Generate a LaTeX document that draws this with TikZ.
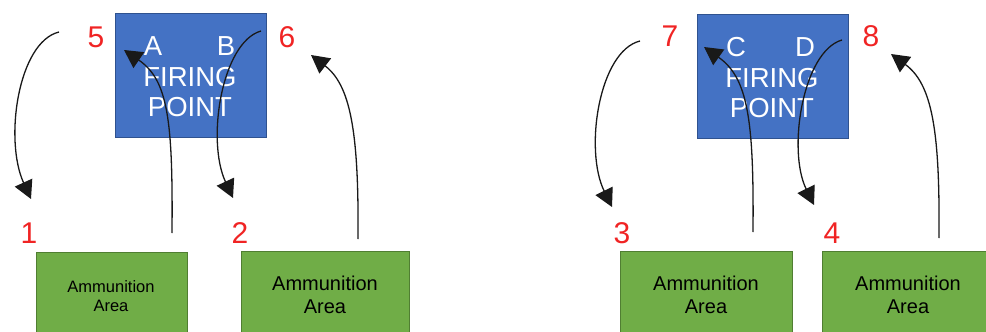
\documentclass[tikz,border=0pt]{standalone}
\usepackage{fontspec}
\setmainfont{Liberation Sans}
\usetikzlibrary{arrows.meta}
\definecolor{fpblue}{HTML}{4472C4}
\definecolor{fpblueb}{HTML}{2F528F}
\definecolor{amgreen}{HTML}{70AD47}
\definecolor{amgreenb}{HTML}{507E32}
\definecolor{numred}{HTML}{F02424}
\tikzset{
  x=1pt, y=-1pt,
  fpbox/.style={draw=fpblueb, fill=fpblue, line width=1.2pt, minimum width=151pt, minimum height=124pt, anchor=north west, inner sep=0pt},
  ambox/.style={draw=amgreenb, fill=amgreen, line width=1.2pt, minimum height=110pt, anchor=north west, inner sep=0pt},
  fptext/.style={text=white, font=\fontsize{27.5}{29}\selectfont, inner sep=0pt},
  numtext/.style={text=numred, font=\fontsize{30}{32}\selectfont, inner sep=0pt},
  amtext/.style={align=center, font=\fontsize{20}{23}\selectfont, inner sep=0pt},
  amtextsm/.style={align=center, font=\fontsize{16.5}{19.5}\selectfont, inner sep=0pt},
  flow/.style={line width=1.3pt, draw={rgb,255:red,25;green,25;blue,25}, -{Triangle[length=18pt,width=19pt]}},
}
\begin{document}
\begin{tikzpicture}
\useasboundingbox (0,0) rectangle (986,332);
\clip (0,0) rectangle (986,332);
% firing points
\node[fpbox] (fp1) at (115,13) {};
\node[fpbox] (fp2) at (697,14) {};
\node[fptext] (lA) at (153,46) {A};
\node[fptext] (lB) at (226,46) {B};
\node[fptext] (f1a) at (190,77) {FIRING};
\node[fptext] (f1b) at (190,107) {POINT};
\node[fptext] (lC) at (736,47) {C};
\node[fptext] (lD) at (805,47) {D};
\node[fptext] (f2a) at (772,78) {FIRING};
\node[fptext] (f2b) at (772,108) {POINT};
% ammunition areas
\node[ambox, minimum width=151pt] (g1) at (36,252) {};
\node[ambox, minimum width=168pt] (g2) at (241,251) {};
\node[ambox, minimum width=172pt] (g3) at (620,251) {};
\node[ambox, minimum width=175pt] (g4) at (822,251) {};
\node[amtextsm] (t1) at (111,296) {Ammunition\\Area};
\node[amtext] (t2) at (325,295) {Ammunition\\Area};
\node[amtext] (t3) at (706,295) {Ammunition\\Area};
\node[amtext] (t4) at (908,295) {Ammunition\\Area};
% numbers
\node[numtext] (n5) at (96,37) {5};
\node[numtext] (n6) at (287,37) {6};
\node[numtext] (n1) at (29,233) {1};
\node[numtext] (n2) at (240,233) {2};
\node[numtext] (n7) at (670,36) {7};
\node[numtext] (n8) at (871,36) {8};
\node[numtext] (n3) at (622,233) {3};
\node[numtext] (n4) at (832,233) {4};
% arrow end coordinates
\coordinate (s51) at (59,32);   \coordinate (e51) at (31,199);
\coordinate (sgA) at (172,233); \coordinate (egA) at (124,50);
\coordinate (sB2) at (261,31);  \coordinate (eB2) at (233,198);
\coordinate (sg6) at (358,239); \coordinate (eg6) at (311,55);
\coordinate (s73) at (640,41);  \coordinate (e73) at (612,207);
\coordinate (sgC) at (753,232); \coordinate (egC) at (704,47);
\coordinate (sD4) at (842,40);  \coordinate (eD4) at (814,205);
\coordinate (sg8) at (939,238); \coordinate (eg8) at (891,54);
% arrows
\draw[flow] (s51) .. controls (18,42) and (4,140) .. (e51);
\draw[flow] (sgA) .. controls (173,120) and (168,80) .. (egA);
\draw[flow] (sB2) .. controls (222,42) and (206,140) .. (eB2);
\draw[flow] (sg6) .. controls (359,130) and (350,85) .. (eg6);
\draw[flow] (s73) .. controls (599,51) and (584,150) .. (e73);
\draw[flow] (sgC) .. controls (754,120) and (748,78) .. (egC);
\draw[flow] (sD4) .. controls (803,51) and (787,150) .. (eD4);
\draw[flow] (sg8) .. controls (940,130) and (932,84) .. (eg8);
\end{tikzpicture}
\end{document}
